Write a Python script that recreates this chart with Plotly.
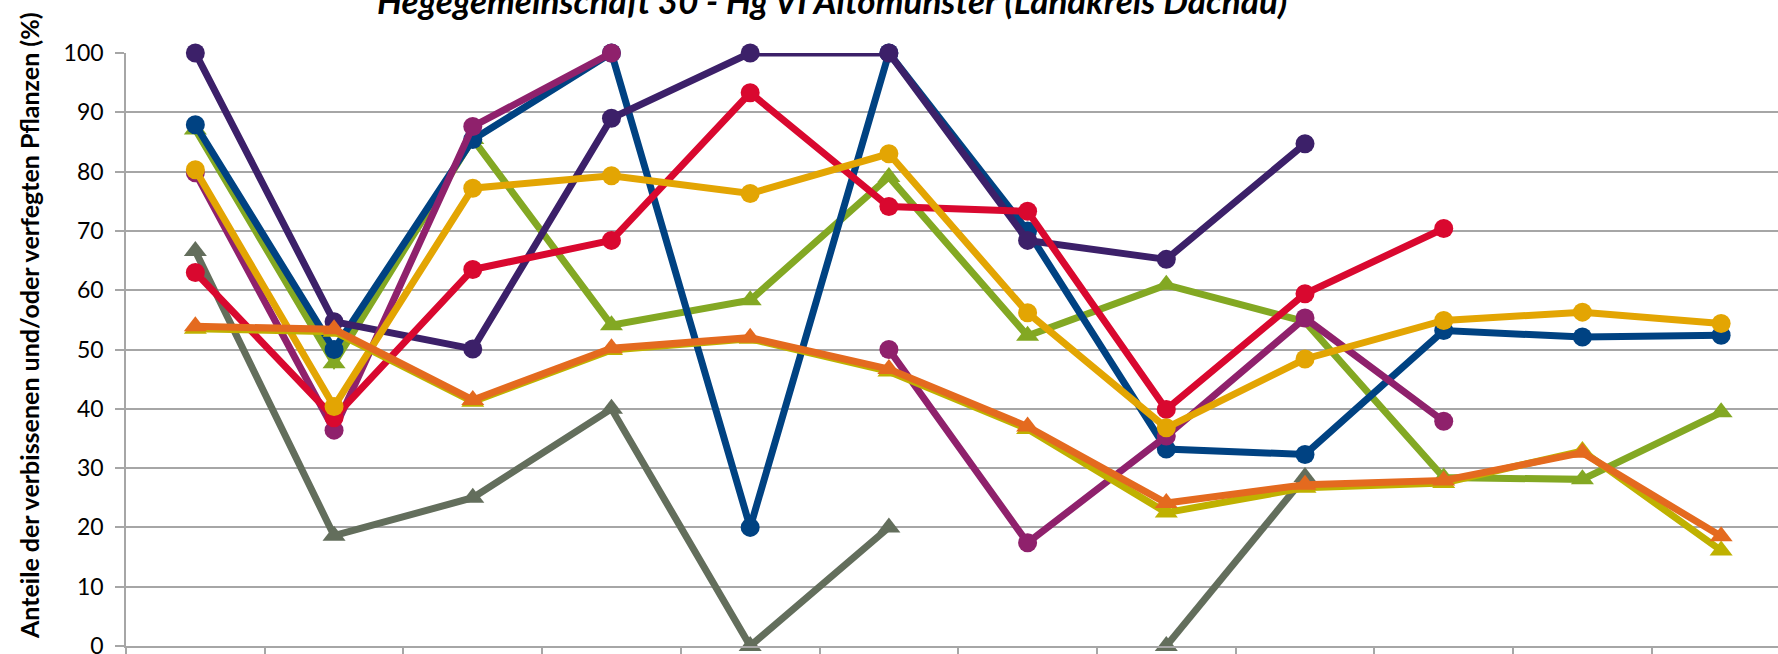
import plotly.graph_objects as go

# Survey categories (labels lie below the visible crop of the reference)
categories = ["1991", "1994", "1997", "2000", "2003", "2006",
              "2009", "2012", "2015", "2018", "2021", "2024"]

# Series values (percent); None = no value
s_gray = [66.6, 18.6, 25.0, 40.0, 0.0, 20.0, None, 0.0, 28.5, None, None, None]
s_green = [87.1, 47.7, 85.5, 54.1, 58.3, 79.1, 52.3, 60.9, 54.7, 28.4, 28.1, 39.4]
s_blue = [87.9, 50.0, 85.4, 100.0, 20.0, 100.0, 70.0, 33.2, 32.3, 53.2, 52.1, 52.4]
s_purple = [100.0, 54.7, 50.1, 89.0, 100.0, 100.0, 68.4, 65.2, 84.7, None, None, None]
s_magenta = [79.8, 36.4, 87.6, 100.0, None, 50.0, 17.4, 35.4, 55.3, 37.9, None, None]
s_red = [63.0, 38.5, 63.5, 68.4, 93.3, 74.1, 73.3, 39.9, 59.4, 70.4, None, None]
s_gold = [80.3, 40.4, 77.2, 79.3, 76.3, 83.0, 56.2, 36.8, 48.4, 54.9, 56.3, 54.4]
s_yellow = [53.5, 53.0, 41.2, 49.9, 51.8, 46.3, 36.6, 22.5, 26.7, 27.5, 32.9, 16.1]
s_orange = [53.9, 53.4, 41.5, 50.2, 52.0, 46.7, 37.0, 24.1, 27.2, 27.9, 32.6, 18.5]

y_ticks = [0, 10, 20, 30, 40, 50, 60, 70, 80, 90, 100]

title_text = "Hegegemeinschaft 30 - Hg VI Altomünster (Landkreis Dachau)"
y_title = "Anteile der verbissenen und/oder verfegten Pflanzen (%)"

series = [
    ("Reihe 1", s_gray, "#636E5C", "triangle-up"),
    ("Reihe 2", s_green, "#83A823", "triangle-up"),
    ("Reihe 3", s_blue, "#004282", "circle"),
    ("Reihe 4", s_purple, "#3C2069", "circle"),
    ("Reihe 5", s_magenta, "#8F216C", "circle"),
    ("Reihe 6", s_red, "#D9082F", "circle"),
    ("Reihe 7", s_gold, "#E3A503", "circle"),
    ("Reihe 8", s_yellow, "#BFB100", "triangle-up"),
    ("Reihe 9", s_orange, "#E46A1F", "triangle-up"),
]

FONT = "Lato"
GRID = "#A6A6A6"

fig = go.Figure()
for name, vals, col, sym in series:
    fig.add_trace(go.Scatter(
        x=categories, y=vals, name=name, mode="lines+markers",
        line=dict(color=col, width=7),
        marker=dict(symbol=sym, color=col, size=19 if sym == "circle" else 20),
        connectgaps=False, cliponaxis=False, showlegend=False,
    ))

fig.update_layout(
    width=1778, height=654,
    margin=dict(l=126, r=0, t=53, b=8),
    paper_bgcolor="white", plot_bgcolor="white",
    font=dict(family=FONT, color="#000000"),
    showlegend=False,
)

fig.update_xaxes(
    type="category", range=[-0.5, 11.41], automargin=False,
    tickson="boundaries", ticks="outside", ticklen=10, tickwidth=1.5,
    tickcolor=GRID, showticklabels=False, showgrid=False,
    showline=True, linecolor=GRID, linewidth=1.5,
)
fig.update_yaxes(
    range=[0, 100], tickvals=y_ticks, ticks="outside", ticklen=9,
    automargin=False,
    tickwidth=1.5, tickcolor=GRID, showgrid=True, gridcolor=GRID,
    gridwidth=1.5, zeroline=False, showline=True, linecolor=GRID,
    linewidth=1.5, tickfont=dict(family=FONT, size=23, color="#000000"),
    ticklabelstandoff=7, ticklabeloverflow="allow",
)

# chart title (partially cut at the top, as in the reference)
fig.add_annotation(
    text="<b><i>" + title_text + "</i></b>", xref="paper", yref="paper",
    x=(832 - 126) / 1652, y=1, xanchor="center", yanchor="bottom",
    yshift=30, showarrow=False, font=dict(family=FONT, size=35, color="#000000"),
)
# y axis title
fig.add_annotation(
    text="<b>" + y_title + "</b>", xref="paper", yref="paper",
    x=(29 - 126) / 1652, y=(646 - 326) / 593, xanchor="center", yanchor="middle",
    textangle=-90, showarrow=False, font=dict(family=FONT, size=25, color="#000000"),
)

fig.write_html(
    "out.html",
    config={"displayModeBar": False},
    post_script="document.body.style.margin='0';document.body.style.overflow='hidden';",
)
